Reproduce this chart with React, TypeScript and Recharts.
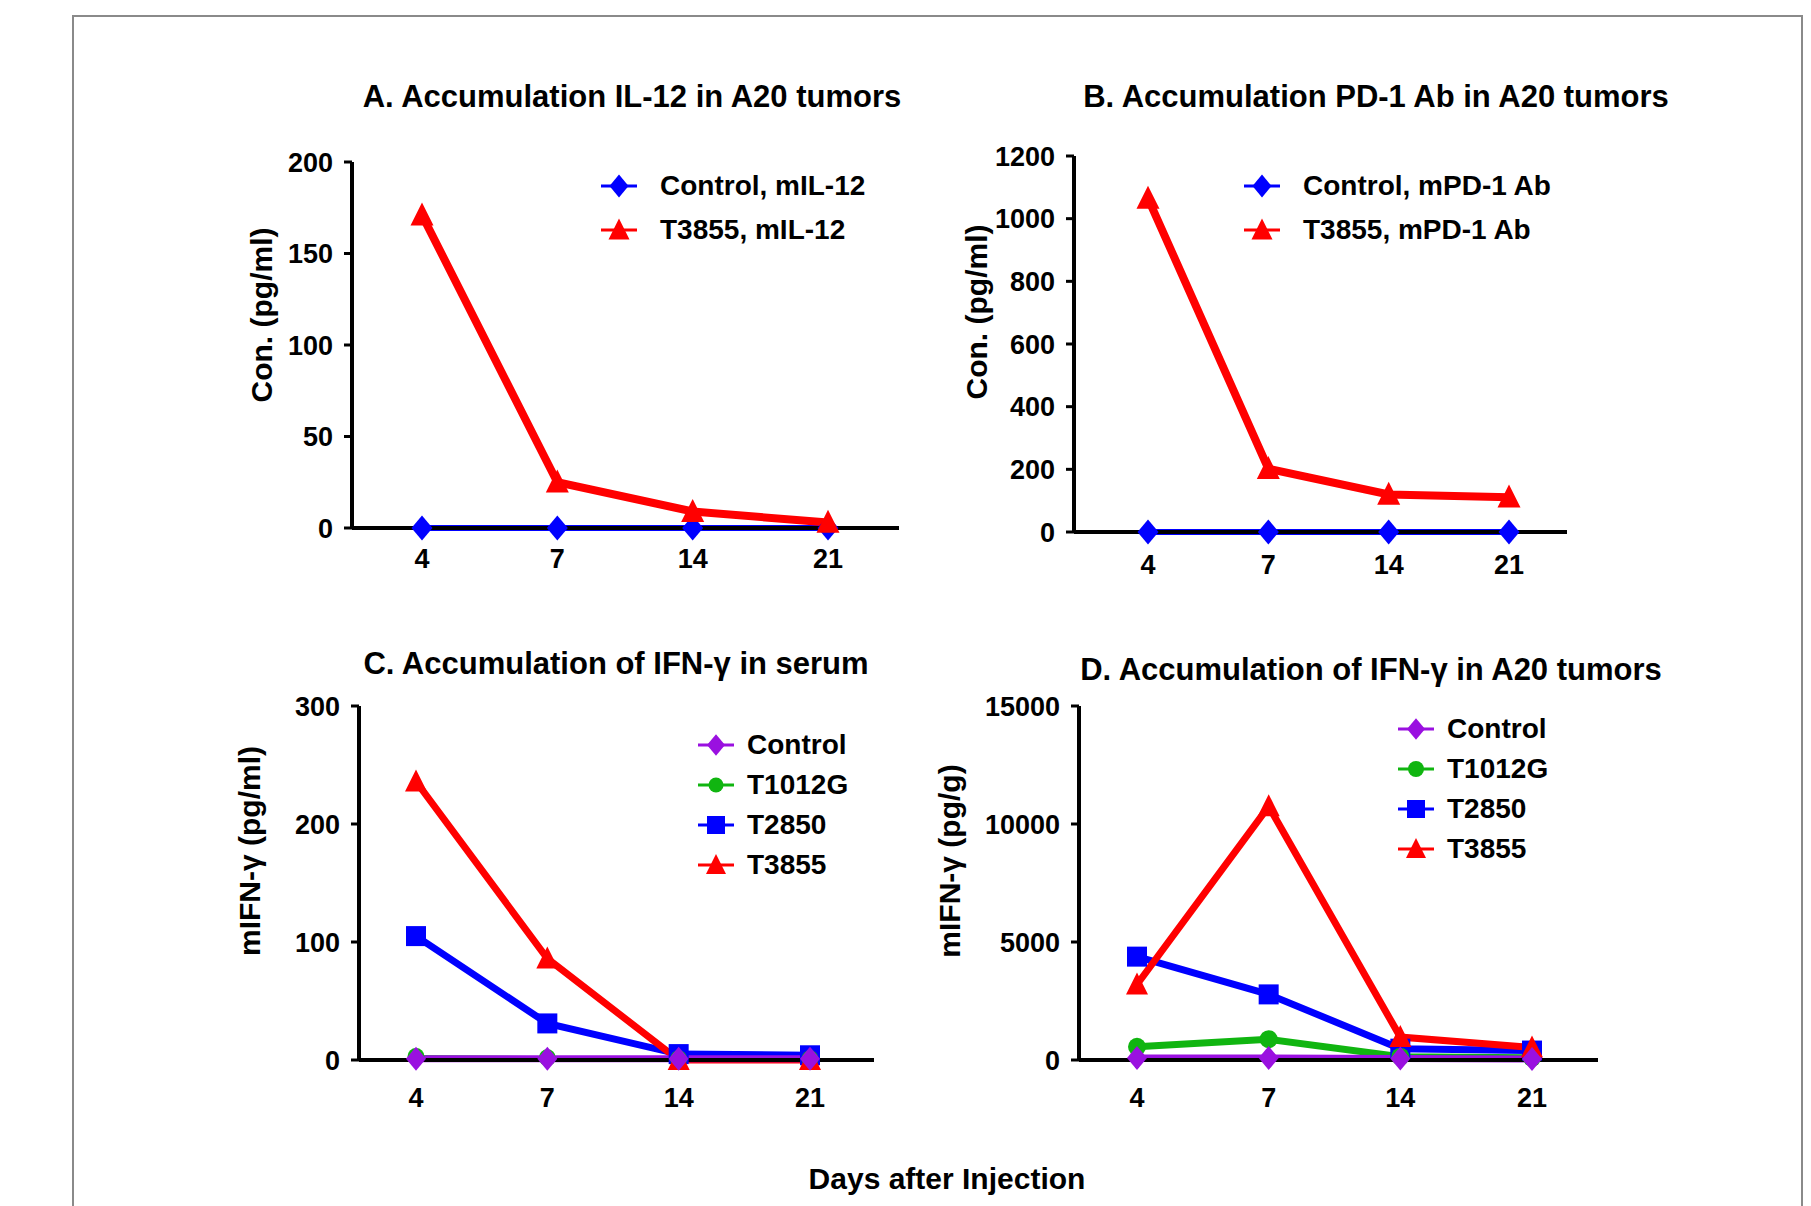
import React from 'react';
import { LineChart, Line, XAxis, YAxis, Legend } from 'recharts';

// x categories shared by all four panels
const days = ['4', '7', '14', '21'];

// A. IL-12 in tumors
const aTicks = [0, 50, 100, 150, 200];
const aControl = [0, 0, 0, 0];
const aT3855 = [171, 25, 9, 3];

// B. PD-1 Ab in tumors
const bTicks = [0, 200, 400, 600, 800, 1000, 1200];
const bControl = [0, 0, 0, 0];
const bT3855 = [1065, 202, 120, 111];

// C. IFN-g in serum
const cTicks = [0, 100, 200, 300];
const cControl = [1, 1, 1, 1];
const cT1012G = [3, 2, 1, 1];
const cT2850 = [105, 31, 5, 4];
const cT3855 = [236, 86, 0, 0];

// D. IFN-g in tumors
const dTicks = [0, 5000, 10000, 15000];
const dControl = [80, 80, 60, 40];
const dT1012G = [560, 880, 140, 90];
const dT2850 = [4380, 2780, 480, 400];
const dT3855 = [3200, 10750, 970, 530];

const FONT = '"Liberation Sans", Arial, Helvetica, sans-serif';
const RED = '#FF0000';
const BLUE = '#0000FF';
const GREEN = '#10B510';
const PURPLE = '#9A10E0';

type Shape = 'diamond' | 'triangle' | 'square' | 'circle';

const Marker = ({ shape, cx, cy, color, size }: any) => {
  if (cx == null || cy == null) return null;
  const s = size / 2;
  if (shape === 'diamond')
    return <polygon points={`${cx},${cy - s * 1.2} ${cx + s},${cy} ${cx},${cy + s * 1.2} ${cx - s},${cy}`} fill={color} />;
  if (shape === 'triangle')
    return <polygon points={`${cx},${cy - s * 1.1} ${cx + s},${cy + s * 0.9} ${cx - s},${cy + s * 0.9}`} fill={color} />;
  if (shape === 'square') return <rect x={cx - s} y={cy - s} width={size} height={size} fill={color} />;
  return <circle cx={cx} cy={cy} r={s} fill={color} />;
};

const panels = [
  {
    title: 'A. Accumulation IL-12 in A20 tumors', titleX: 632, titleY: 96,
    yLabel: 'Con. (pg/ml)', yLabelX: 261, yLabelY: 315,
    axisX: 352, plotRight: 899, yTop: 162, yBottom: 528, padL: 70, padR: 71, xMargin: 13,
    ticks: aTicks,
    legendX: 600, legendY: 164, rowH: 44, textGap: 22,
    series: [
      { name: 'Control, mIL-12', values: aControl, color: BLUE, shape: 'diamond' as Shape, size: 21, width: 6 },
      { name: 'T3855, mIL-12', values: aT3855, color: RED, shape: 'triangle' as Shape, size: 23, width: 8 },
    ],
    drawOrder: [0, 1],
  },
  {
    title: 'B. Accumulation PD-1 Ab in A20 tumors', titleX: 1376, titleY: 96,
    yLabel: 'Con. (pg/ml)', yLabelX: 976, yLabelY: 312,
    axisX: 1074, plotRight: 1567, yTop: 156, yBottom: 532, padL: 74, padR: 58, xMargin: 15,
    ticks: bTicks,
    legendX: 1243, legendY: 164, rowH: 44, textGap: 22,
    series: [
      { name: 'Control, mPD-1 Ab', values: bControl, color: BLUE, shape: 'diamond' as Shape, size: 21, width: 6 },
      { name: 'T3855, mPD-1 Ab', values: bT3855, color: RED, shape: 'triangle' as Shape, size: 23, width: 8 },
    ],
    drawOrder: [0, 1],
  },
  {
    title: 'C. Accumulation of IFN-\u03b3 in serum', titleX: 616, titleY: 663,
    yLabel: 'mIFN-\u03b3 (pg/ml)', yLabelX: 249, yLabelY: 851,
    axisX: 359, plotRight: 874, yTop: 706, yBottom: 1060, padL: 57, padR: 64, xMargin: 20,
    ticks: cTicks,
    legendX: 697, legendY: 725, rowH: 40, textGap: 12,
    series: [
      { name: 'Control', values: cControl, color: PURPLE, shape: 'diamond' as Shape, size: 20, width: 7 },
      { name: 'T1012G', values: cT1012G, color: GREEN, shape: 'circle' as Shape, size: 17, width: 3 },
      { name: 'T2850', values: cT2850, color: BLUE, shape: 'square' as Shape, size: 20, width: 7 },
      { name: 'T3855', values: cT3855, color: RED, shape: 'triangle' as Shape, size: 22, width: 7 },
    ],
    drawOrder: [2, 1, 3, 0],
  },
  {
    title: 'D. Accumulation of IFN-\u03b3 in A20 tumors', titleX: 1371, titleY: 669,
    yLabel: 'mIFN-\u03b3 (pg/g)', yLabelX: 949, yLabelY: 861,
    axisX: 1079, plotRight: 1598, yTop: 706, yBottom: 1060, padL: 58, padR: 66, xMargin: 20,
    ticks: dTicks,
    legendX: 1397, legendY: 709, rowH: 40, textGap: 12,
    series: [
      { name: 'Control', values: dControl, color: PURPLE, shape: 'diamond' as Shape, size: 20, width: 7 },
      { name: 'T1012G', values: dT1012G, color: GREEN, shape: 'circle' as Shape, size: 18, width: 7 },
      { name: 'T2850', values: dT2850, color: BLUE, shape: 'square' as Shape, size: 20, width: 7 },
      { name: 'T3855', values: dT3855, color: RED, shape: 'triangle' as Shape, size: 22, width: 7 },
    ],
    drawOrder: [2, 1, 3, 0],
  },
];

const YW = 220;
const MT = 30;
const MR = 30;
const XH = 70;

const tickStyle = { fill: '#000', fontSize: 27, fontWeight: 'bold', fontFamily: FONT };

const Panel = ({ p }: any) => {
  const boxLeft = p.axisX - YW;
  const boxTop = p.yTop - MT;
  const width = p.plotRight + MR - boxLeft;
  const height = p.yBottom + XH - boxTop;
  const rows = days.map((d, i) => {
    const r: any = { day: d };
    p.series.forEach((s: any, k: number) => (r['s' + k] = s.values[i]));
    return r;
  });

  const renderLegend = () => (
    <div style={{ fontFamily: FONT, fontWeight: 'bold', fontSize: 28, color: '#000' }}>
      {p.series.map((s: any) => (
        <div key={s.name} style={{ display: 'flex', alignItems: 'center', height: p.rowH, whiteSpace: 'nowrap' }}>
          <svg width={38} height={30} style={{ flex: 'none' }}>
            <line x1={1} y1={15} x2={37} y2={15} stroke={s.color} strokeWidth={3} />
            <Marker shape={s.shape} cx={19} cy={15} color={s.color} size={s.size - 2} />
          </svg>
          <span style={{ marginLeft: p.textGap }}>{s.name}</span>
        </div>
      ))}
    </div>
  );

  const renderYLabel = () => {
    const x = p.yLabelX - boxLeft;
    const y = p.yLabelY - boxTop;
    return (
      <text x={x} y={y} transform={`rotate(-90 ${x} ${y})`} textAnchor="middle" dominantBaseline="central"
        fontSize={30} fontWeight="bold" fontFamily={FONT} fill="#000">
        {p.yLabel}
      </text>
    );
  };

  return (
    <div style={{ position: 'absolute', left: boxLeft, top: boxTop }}>
      <LineChart width={width} height={height} data={rows} margin={{ top: MT, right: MR, bottom: 0, left: 0 }}>
        <XAxis dataKey="day" type="category" height={XH} padding={{ left: p.padL, right: p.padR }}
          axisLine={{ stroke: '#000', strokeWidth: 4 }} tickLine={{ stroke: '#000', strokeWidth: 3 }}
          tickSize={8} tickMargin={p.xMargin} tick={tickStyle} interval={0} />
        <YAxis type="number" width={YW} domain={[0, p.ticks[p.ticks.length - 1]]} ticks={p.ticks} interval={0}
          axisLine={{ stroke: '#000', strokeWidth: 4 }} tickLine={{ stroke: '#000', strokeWidth: 3 }}
          tickSize={8} tickMargin={11} tick={tickStyle} label={{ content: renderYLabel }} />
        <Legend layout="vertical" align="center" verticalAlign="middle" content={renderLegend}
          wrapperStyle={{ left: p.legendX - boxLeft, top: p.legendY - boxTop, width: 'auto', height: 'auto' }} />
        {p.drawOrder.map((k: number) => {
          const s = p.series[k];
          return (
            <Line key={s.name} dataKey={'s' + k} name={s.name} stroke={s.color} strokeWidth={s.width}
              isAnimationActive={false} activeDot={false} legendType="none"
              dot={(props: any) => (
                <Marker key={`${s.name}-${props.index}`} shape={s.shape} cx={props.cx} cy={props.cy} color={s.color} size={s.size} />
              )} />
          );
        })}
      </LineChart>
    </div>
  );
};

const centered = (x: number, y: number, size: number): React.CSSProperties => ({
  position: 'absolute', left: x, top: y, transform: 'translate(-50%, -50%)', whiteSpace: 'nowrap',
  fontFamily: FONT, fontWeight: 'bold', fontSize: size, color: '#000', lineHeight: 1,
});

const App = () => (
  <div style={{ position: 'relative', width: 1811, height: 1206, overflow: 'hidden', background: '#fff' }}>
    <style>{'body { margin: 0; }'}</style>
    <div style={{ position: 'absolute', left: 72, top: 15, width: 1727, height: 1300, border: '2px solid #8a8a8a' }} />
    {panels.map((p) => (
      <React.Fragment key={p.title}>
        <div style={centered(p.titleX, p.titleY, 31)}>{p.title}</div>
        <Panel p={p} />
      </React.Fragment>
    ))}
    <div style={centered(947, 1179, 30)}>Days after Injection</div>
  </div>
);

export default App;
